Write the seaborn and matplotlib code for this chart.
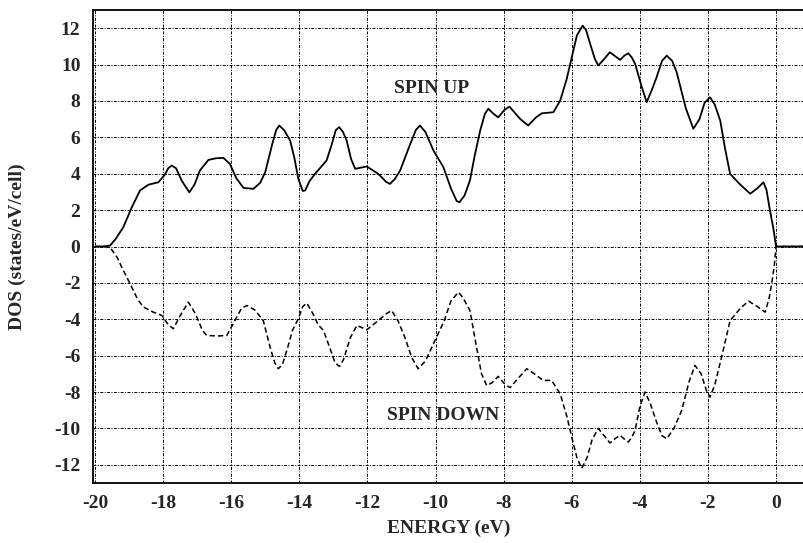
import matplotlib
matplotlib.use("Agg")
import matplotlib.pyplot as plt
import seaborn as sns
import pandas as pd

# Spin-up DOS (energy in eV, states/eV/cell)
energy_up = [-20.0, -19.8, -19.56, -19.4, -19.17, -18.92, -18.68, -18.43, -18.14, -17.95, -17.85,
             -17.75, -17.62, -17.45, -17.23, -17.08, -16.92, -16.67, -16.45, -16.23, -16.04, -15.85,
             -15.64, -15.35, -15.15, -15.0, -14.8, -14.68, -14.59, -14.45, -14.27, -14.15, -14.03,
             -13.9, -13.83, -13.7, -13.54, -13.2, -13.05, -12.93, -12.83, -12.72, -12.61, -12.48,
             -12.36, -12.02, -11.68, -11.45, -11.34, -11.2, -11.04, -10.75, -10.58, -10.46, -10.3,
             -10.06, -9.77, -9.55, -9.38, -9.30, -9.15, -8.99, -8.85, -8.69, -8.55, -8.45, -8.3,
             -8.16, -7.98, -7.83, -7.65, -7.52, -7.28, -7.05, -6.88, -6.54, -6.34, -6.15, -6.0,
             -5.85, -5.68, -5.58, -5.46, -5.32, -5.22, -5.05, -4.88, -4.72, -4.58, -4.45, -4.34,
             -4.24, -4.14, -3.95, -3.80, -3.65, -3.51, -3.35, -3.21, -3.05, -2.92, -2.65, -2.43,
             -2.25, -2.1, -1.94, -1.8, -1.64, -1.5, -1.35, -1.05, -0.76, -0.55, -0.37, -0.28,
             -0.18, -0.08, 0.0, 1.0]
dos_up = [0.0, 0.0, 0.05, 0.4, 1.06, 2.16, 3.08, 3.40, 3.53, 3.95, 4.3,
          4.45, 4.3, 3.6, 2.98, 3.4, 4.18, 4.76, 4.85, 4.87, 4.54, 3.75,
          3.22, 3.17, 3.5, 4.1, 5.6, 6.4, 6.65, 6.4, 5.82, 4.9, 3.72,
          3.05, 3.08, 3.6, 3.99, 4.73, 5.6, 6.4, 6.56, 6.3, 5.82, 4.8,
          4.27, 4.40, 3.99, 3.55, 3.44, 3.7, 4.18, 5.6, 6.4, 6.65, 6.3,
          5.27, 4.36, 3.2, 2.5, 2.43, 2.8, 3.63, 5.0, 6.37, 7.3, 7.57, 7.3,
          7.10, 7.5, 7.69, 7.3, 7.02, 6.65, 7.1, 7.32, 7.38, 8.02, 9.2, 10.4,
          11.6, 12.14, 11.9, 11.14, 10.3, 9.95, 10.3, 10.68, 10.45, 10.26, 10.5, 10.62,
          10.4, 10.04, 8.8, 7.93, 8.6, 9.30, 10.2, 10.49, 10.2, 9.58, 7.6, 6.47,
          7.0, 7.9, 8.20, 7.8, 6.92, 5.4, 3.99, 3.4, 2.9, 3.2, 3.53, 3.1,
          1.98, 1.0, 0.0, 0.0]

# Spin-down DOS (plotted negative)
energy_dn = [-20.0, -19.8, -19.56, -19.35, -19.2, -18.97, -18.75, -18.58, -18.3, -18.04, -17.85,
             -17.70, -17.5, -17.26, -17.05, -16.85, -16.72, -16.4, -16.13, -15.9, -15.7, -15.54,
             -15.3, -15.06, -14.85, -14.72, -14.62, -14.5, -14.35, -14.2, -14.03, -13.9, -13.78,
             -13.6, -13.45, -13.29, -13.1, -12.95, -12.82, -12.7, -12.5, -12.31, -12.02, -11.7,
             -11.45, -11.29, -11.1, -10.9, -10.7, -10.51, -10.3, -9.97, -9.75, -9.55, -9.33, -9.2,
             -8.99, -8.8, -8.65, -8.50, -8.35, -8.16, -7.95, -7.81, -7.6, -7.32, -7.1, -6.84,
             -6.59, -6.34, -6.15, -6.0, -5.85, -5.71, -5.55, -5.4, -5.22, -5.05, -4.88, -4.72,
             -4.58, -4.45, -4.34, -4.24, -4.14, -4.0, -3.85, -3.7, -3.5, -3.35, -3.21, -3.0,
             -2.77, -2.55, -2.38, -2.2, -2.05, -1.94, -1.8, -1.60, -1.35, -1.05, -0.81, -0.55,
             -0.32, -0.2, -0.13, -0.05, 0.0, 1.0]
dos_dn = [0.0, 0.0, -0.05, -0.6, -1.2, -2.05, -2.9, -3.33, -3.6, -3.79, -4.3,
          -4.52, -3.8, -3.06, -3.7, -4.6, -4.89, -4.92, -4.89, -4.1, -3.4, -3.24,
          -3.5, -4.07, -5.6, -6.4, -6.72, -6.5, -5.6, -4.6, -3.97, -3.3, -3.11,
          -3.7, -4.3, -4.62, -5.6, -6.4, -6.59, -6.2, -5.0, -4.34, -4.58, -4.1,
          -3.7, -3.52, -4.1, -5.0, -6.1, -6.72, -6.3, -4.98, -4.1, -3.0, -2.51, -2.8,
          -3.52, -5.5, -7.0, -7.64, -7.5, -7.14, -7.6, -7.76, -7.3, -6.72, -7.0, -7.36,
          -7.36, -8.1, -9.3, -10.48, -11.6, -12.2, -11.6, -10.6, -10.0, -10.4, -10.8, -10.55,
          -10.38, -10.6, -10.75, -10.5, -10.1, -8.8, -8.0, -8.6, -9.7, -10.4, -10.57, -10.0,
          -9.0, -7.4, -6.54, -7.0, -7.9, -8.28, -7.6, -6.08, -4.07, -3.4, -3.0, -3.3,
          -3.61, -2.8, -2.05, -1.0, 0.0, 0.0]

x_ticks = [-20, -18, -16, -14, -12, -10, -8, -6, -4, -2, 0]
y_ticks = [-12, -10, -8, -6, -4, -2, 0, 2, 4, 6, 8, 10, 12]

sns.set_style("white")
plt.rcParams["font.family"] = ["Liberation Serif", "DejaVu Serif"]
plt.rcParams["axes.unicode_minus"] = False

fig = plt.figure(figsize=(8.04, 5.43), dpi=100)
ax = fig.add_axes([93 / 804, 1 - 483 / 543, 711 / 804, 473 / 543])

df_up = pd.DataFrame({"E": energy_up, "DOS": dos_up})
df_dn = pd.DataFrame({"E": energy_dn, "DOS": dos_dn})

sns.lineplot(data=df_up, x="E", y="DOS", ax=ax, color="black", lw=1.3, sort=False, zorder=3)
sns.lineplot(data=df_dn, x="E", y="DOS", ax=ax, color="black", lw=1.1, sort=False, zorder=3)
ax.lines[-1].set_dashes([3.5, 2])

ax.set_xlim(-20.06, 0.82)
ax.set_ylim(-13.0, 13.0)
ax.set_xticks(x_ticks)
ax.set_yticks(y_ticks)
ax.tick_params(length=0, pad=9, labelsize=14)
for lab in ax.get_xticklabels() + ax.get_yticklabels():
    lab.set_fontweight("bold")

ax.grid(True, color="black", lw=0.7, linestyle=(0, (3, 1.5, 1, 1.5)))
ax.set_axisbelow(True)

for side in ["left", "top", "bottom"]:
    ax.spines[side].set_color("black")
    ax.spines[side].set_linewidth(1.3)
ax.spines["right"].set_visible(False)

ax.set_xlabel("ENERGY (eV)", fontsize=14, fontweight="bold", labelpad=5)
ax.set_ylabel("DOS (states/eV/cell)", fontsize=14, fontweight="bold", labelpad=20)

ax.text(-10.13, 8.68, "SPIN UP", fontsize=14, fontweight="bold", ha="center", va="center")
ax.text(-9.78, -9.29, "SPIN DOWN", fontsize=14, fontweight="bold", ha="center", va="center")

fig.savefig("out.png", dpi=100)
